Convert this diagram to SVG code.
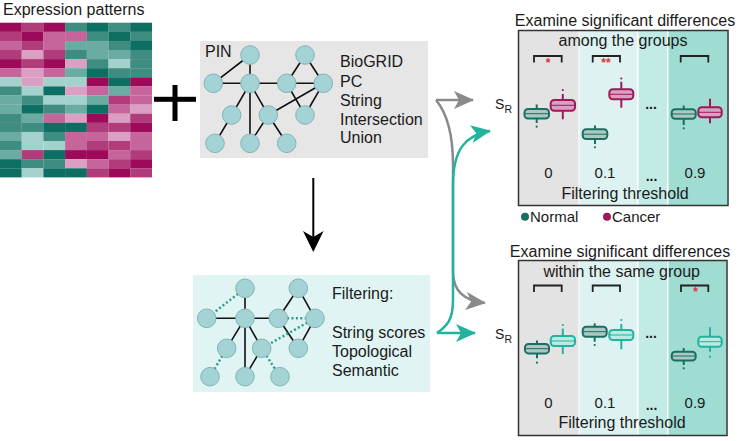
<svg xmlns="http://www.w3.org/2000/svg" width="756" height="441" viewBox="0 0 756 441">
<style>
text{font-family:"Liberation Sans",Arial,sans-serif;fill:#1a1a1a}
.t16{font-size:16px}
.t15{font-size:15px}
.ell{font-size:14px;font-weight:bold}
.a{fill:#9e0a5a}.b{fill:#b03c7c}.c{fill:#c5659b}.d{fill:#dc9fc4}
.e{fill:#a3d2cc}.f{fill:#6aaba2}.g{fill:#3f8c80}.h{fill:#0d6f61}
.node{fill:#a3d3d5;stroke:#84b3b7;stroke-width:1}
.edge{stroke:#111;stroke-width:1.6;fill:none}
.dot{stroke:#2a9c8b;stroke-width:2.5;stroke-dasharray:2 2.4;fill:none}
.brk{fill:none;stroke:#222;stroke-width:1.8}
.nbox{fill:#a9c9c2;stroke:#1a6e62;stroke-width:2}
.nw{stroke:#1a6e62;stroke-width:2}
.cbox{fill:#d9a0bf;stroke:#9c1a5c;stroke-width:2}
.cw{stroke:#9c1a5c;stroke-width:2}
.lbox{fill:#b8ebe2;stroke:#22b39e;stroke-width:2}
.lw{stroke:#22b39e;stroke-width:2}
.med{stroke-width:1}
.star{fill:#e0303a;font-size:12px;font-weight:bold}
</style>
<defs>
<marker id="ag" markerWidth="20" markerHeight="18" refX="19" refY="9" orient="auto" markerUnits="userSpaceOnUse">
<path d="M0,0 L20,9 L0,18 L5,9 z" fill="#8a8a8a"/>
</marker>
<marker id="at" markerWidth="20" markerHeight="18" refX="19" refY="9" orient="auto" markerUnits="userSpaceOnUse">
<path d="M0,0 L20,9 L0,18 L5,9 z" fill="#22b39e"/>
</marker>
</defs>

<g id="heatmap">
<text class="t16" x="3" y="15">Expression patterns</text>
<g>
<rect class="a" x="0" y="22.7" width="21.8" height="9.2"/><rect class="b" x="21.7" y="22.7" width="21.8" height="9.2"/><rect class="a" x="43.4" y="22.7" width="21.8" height="9.2"/><rect class="g" x="65.1" y="22.7" width="21.8" height="9.2"/><rect class="h" x="86.8" y="22.7" width="21.8" height="9.2"/><rect class="g" x="108.5" y="22.7" width="21.8" height="9.2"/><rect class="h" x="130.2" y="22.7" width="21.8" height="9.2"/>
<rect class="b" x="0" y="31.8" width="21.8" height="9.2"/><rect class="a" x="21.7" y="31.8" width="21.8" height="9.2"/><rect class="c" x="43.4" y="31.8" width="21.8" height="9.2"/><rect class="c" x="65.1" y="31.8" width="21.8" height="9.2"/><rect class="g" x="86.8" y="31.8" width="21.8" height="9.2"/><rect class="h" x="108.5" y="31.8" width="21.8" height="9.2"/><rect class="g" x="130.2" y="31.8" width="21.8" height="9.2"/>
<rect class="c" x="0" y="40.9" width="21.8" height="9.2"/><rect class="b" x="21.7" y="40.9" width="21.8" height="9.2"/><rect class="c" x="43.4" y="40.9" width="21.8" height="9.2"/><rect class="f" x="65.1" y="40.9" width="21.8" height="9.2"/><rect class="f" x="86.8" y="40.9" width="21.8" height="9.2"/><rect class="g" x="108.5" y="40.9" width="21.8" height="9.2"/><rect class="h" x="130.2" y="40.9" width="21.8" height="9.2"/>
<rect class="b" x="0" y="50" width="21.8" height="9.2"/><rect class="d" x="21.7" y="50" width="21.8" height="9.2"/><rect class="b" x="43.4" y="50" width="21.8" height="9.2"/><rect class="g" x="65.1" y="50" width="21.8" height="9.2"/><rect class="f" x="86.8" y="50" width="21.8" height="9.2"/><rect class="f" x="108.5" y="50" width="21.8" height="9.2"/><rect class="g" x="130.2" y="50" width="21.8" height="9.2"/>
<rect class="a" x="0" y="59.1" width="21.8" height="9.2"/><rect class="b" x="21.7" y="59.1" width="21.8" height="9.2"/><rect class="a" x="43.4" y="59.1" width="21.8" height="9.2"/><rect class="d" x="65.1" y="59.1" width="21.8" height="9.2"/><rect class="g" x="86.8" y="59.1" width="21.8" height="9.2"/><rect class="e" x="108.5" y="59.1" width="21.8" height="9.2"/><rect class="g" x="130.2" y="59.1" width="21.8" height="9.2"/>
<rect class="c" x="0" y="68.2" width="21.8" height="9.2"/><rect class="d" x="21.7" y="68.2" width="21.8" height="9.2"/><rect class="c" x="43.4" y="68.2" width="21.8" height="9.2"/><rect class="f" x="65.1" y="68.2" width="21.8" height="9.2"/><rect class="h" x="86.8" y="68.2" width="21.8" height="9.2"/><rect class="g" x="108.5" y="68.2" width="21.8" height="9.2"/><rect class="g" x="130.2" y="68.2" width="21.8" height="9.2"/>
<rect class="e" x="0" y="77.3" width="21.8" height="9.2"/><rect class="d" x="21.7" y="77.3" width="21.8" height="9.2"/><rect class="e" x="43.4" y="77.3" width="21.8" height="9.2"/><rect class="e" x="65.1" y="77.3" width="21.8" height="9.2"/><rect class="a" x="86.8" y="77.3" width="21.8" height="9.2"/><rect class="h" x="108.5" y="77.3" width="21.8" height="9.2"/><rect class="a" x="130.2" y="77.3" width="21.8" height="9.2"/>
<rect class="g" x="0" y="86.4" width="21.8" height="9.2"/><rect class="e" x="21.7" y="86.4" width="21.8" height="9.2"/><rect class="h" x="43.4" y="86.4" width="21.8" height="9.2"/><rect class="d" x="65.1" y="86.4" width="21.8" height="9.2"/><rect class="c" x="86.8" y="86.4" width="21.8" height="9.2"/><rect class="f" x="108.5" y="86.4" width="21.8" height="9.2"/><rect class="c" x="130.2" y="86.4" width="21.8" height="9.2"/>
<rect class="f" x="0" y="95.5" width="21.8" height="9.2"/><rect class="g" x="21.7" y="95.5" width="21.8" height="9.2"/><rect class="e" x="43.4" y="95.5" width="21.8" height="9.2"/><rect class="e" x="65.1" y="95.5" width="21.8" height="9.2"/><rect class="f" x="86.8" y="95.5" width="21.8" height="9.2"/><rect class="b" x="108.5" y="95.5" width="21.8" height="9.2"/><rect class="c" x="130.2" y="95.5" width="21.8" height="9.2"/>
<rect class="f" x="0" y="104.6" width="21.8" height="9.2"/><rect class="h" x="21.7" y="104.6" width="21.8" height="9.2"/><rect class="g" x="43.4" y="104.6" width="21.8" height="9.2"/><rect class="f" x="65.1" y="104.6" width="21.8" height="9.2"/><rect class="h" x="86.8" y="104.6" width="21.8" height="9.2"/><rect class="c" x="108.5" y="104.6" width="21.8" height="9.2"/><rect class="d" x="130.2" y="104.6" width="21.8" height="9.2"/>
<rect class="g" x="0" y="113.7" width="21.8" height="9.2"/><rect class="f" x="21.7" y="113.7" width="21.8" height="9.2"/><rect class="c" x="43.4" y="113.7" width="21.8" height="9.2"/><rect class="d" x="65.1" y="113.7" width="21.8" height="9.2"/><rect class="a" x="86.8" y="113.7" width="21.8" height="9.2"/><rect class="d" x="108.5" y="113.7" width="21.8" height="9.2"/><rect class="b" x="130.2" y="113.7" width="21.8" height="9.2"/>
<rect class="g" x="0" y="122.8" width="21.8" height="9.2"/><rect class="g" x="21.7" y="122.8" width="21.8" height="9.2"/><rect class="h" x="43.4" y="122.8" width="21.8" height="9.2"/><rect class="h" x="65.1" y="122.8" width="21.8" height="9.2"/><rect class="b" x="86.8" y="122.8" width="21.8" height="9.2"/><rect class="b" x="108.5" y="122.8" width="21.8" height="9.2"/><rect class="a" x="130.2" y="122.8" width="21.8" height="9.2"/>
<rect class="f" x="0" y="131.9" width="21.8" height="9.2"/><rect class="e" x="21.7" y="131.9" width="21.8" height="9.2"/><rect class="g" x="43.4" y="131.9" width="21.8" height="9.2"/><rect class="c" x="65.1" y="131.9" width="21.8" height="9.2"/><rect class="c" x="86.8" y="131.9" width="21.8" height="9.2"/><rect class="d" x="108.5" y="131.9" width="21.8" height="9.2"/><rect class="c" x="130.2" y="131.9" width="21.8" height="9.2"/>
<rect class="g" x="0" y="141" width="21.8" height="9.2"/><rect class="e" x="21.7" y="141" width="21.8" height="9.2"/><rect class="e" x="43.4" y="141" width="21.8" height="9.2"/><rect class="c" x="65.1" y="141" width="21.8" height="9.2"/><rect class="b" x="86.8" y="141" width="21.8" height="9.2"/><rect class="b" x="108.5" y="141" width="21.8" height="9.2"/><rect class="c" x="130.2" y="141" width="21.8" height="9.2"/>
<rect class="f" x="0" y="150.1" width="21.8" height="9.2"/><rect class="b" x="21.7" y="150.1" width="21.8" height="9.2"/><rect class="h" x="43.4" y="150.1" width="21.8" height="9.2"/><rect class="a" x="65.1" y="150.1" width="21.8" height="9.2"/><rect class="a" x="86.8" y="150.1" width="21.8" height="9.2"/><rect class="c" x="108.5" y="150.1" width="21.8" height="9.2"/><rect class="b" x="130.2" y="150.1" width="21.8" height="9.2"/>
<rect class="h" x="0" y="159.2" width="21.8" height="9.2"/><rect class="g" x="21.7" y="159.2" width="21.8" height="9.2"/><rect class="g" x="43.4" y="159.2" width="21.8" height="9.2"/><rect class="d" x="65.1" y="159.2" width="21.8" height="9.2"/><rect class="c" x="86.8" y="159.2" width="21.8" height="9.2"/><rect class="b" x="108.5" y="159.2" width="21.8" height="9.2"/><rect class="a" x="130.2" y="159.2" width="21.8" height="9.2"/>
<rect class="h" x="0" y="168.3" width="21.8" height="9.1"/><rect class="e" x="21.7" y="168.3" width="21.8" height="9.1"/><rect class="h" x="43.4" y="168.3" width="21.8" height="9.1"/><rect class="h" x="65.1" y="168.3" width="21.8" height="9.1"/><rect class="b" x="86.8" y="168.3" width="21.8" height="9.1"/><rect class="a" x="108.5" y="168.3" width="21.8" height="9.1"/><rect class="b" x="130.2" y="168.3" width="21.8" height="9.1"/>
</g>
</g>

<g id="plus">
<rect x="154" y="96.8" width="42" height="5" fill="#000"/>
<rect x="172.5" y="85" width="5" height="36" fill="#000"/>
</g>

<g id="pin">
<rect x="200" y="41" width="228" height="117" fill="#e6e6e6"/>
<text class="t16" x="205" y="57">PIN</text>
<g class="edges">
<path class="edge" d="M250,55 L213.3,83.3 M250,55 L250,143.3 M213.3,83.3 L323.3,83.3 M305,55 L286.7,83.3 M305,55 L323.3,83.3 M250,83.3 L231.7,115 M250,83.3 L268.3,115 M286.7,83.3 L305,115 M323.3,83.3 L305,115 M323.3,83.3 L268.3,115 M231.7,115 L215,143.3 M268.3,115 L250,143.3 M268.3,115 L286.7,143.3"/>
</g>
<circle class="node" cx="250" cy="55" r="9.3"/><circle class="node" cx="305" cy="55" r="9.3"/>
<circle class="node" cx="213.3" cy="83.3" r="9.3"/><circle class="node" cx="250" cy="83.3" r="9.3"/><circle class="node" cx="286.7" cy="83.3" r="9.3"/><circle class="node" cx="323.3" cy="83.3" r="9.3"/>
<circle class="node" cx="231.7" cy="115" r="9.3"/><circle class="node" cx="268.3" cy="115" r="9.3"/><circle class="node" cx="305" cy="115" r="9.3"/>
<circle class="node" cx="215" cy="143.3" r="9.3"/><circle class="node" cx="250" cy="143.3" r="9.3"/><circle class="node" cx="286.7" cy="143.3" r="9.3"/>
<text class="t16" x="340" y="67">BioGRID</text>
<text class="t16" x="340" y="86.5">PC</text>
<text class="t16" x="340" y="105.5">String</text>
<text class="t16" x="340" y="124.5">Intersection</text>
<text class="t16" x="340" y="143">Union</text>
</g>

<g id="filter">
<rect x="193" y="275" width="237" height="117" fill="#e0f4f4"/>
<path class="edge" d="M206.7,318.3 L278.3,318.3 M245,288.3 L245,376.7 M298.3,288.3 L278.3,318.3 M298.3,288.3 L315,318.3 M278.3,318.3 L298.3,348.3 M315,318.3 L298.3,348.3 M245,318.3 L226.7,348.3 M245,318.3 L261.7,348.3 M261.7,348.3 L245,376.7"/>
<path class="dot" d="M245,288.3 L206.7,318.3 M278.3,318.3 L315,318.3 M315,318.3 L261.7,348.3 M226.7,348.3 L210,376.7 M261.7,348.3 L280,376.7"/>
<circle class="node" cx="245" cy="288.3" r="9.3"/><circle class="node" cx="298.3" cy="288.3" r="9.3"/>
<circle class="node" cx="206.7" cy="318.3" r="9.3"/><circle class="node" cx="245" cy="318.3" r="9.3"/><circle class="node" cx="278.3" cy="318.3" r="9.3"/><circle class="node" cx="315" cy="318.3" r="9.3"/>
<circle class="node" cx="226.7" cy="348.3" r="9.3"/><circle class="node" cx="261.7" cy="348.3" r="9.3"/><circle class="node" cx="298.3" cy="348.3" r="9.3"/>
<circle class="node" cx="210" cy="376.7" r="9.3"/><circle class="node" cx="245" cy="376.7" r="9.3"/><circle class="node" cx="280" cy="376.7" r="9.3"/>
<text class="t16" x="332" y="299">Filtering:</text>
<text class="t16" x="332" y="338">String scores</text>
<text class="t16" x="332" y="357">Topological</text>
<text class="t16" x="332" y="376">Semantic</text>
</g>

<g id="connectors">
<line x1="313.3" y1="178" x2="313.3" y2="240" stroke="#000" stroke-width="2"/>
<path d="M313.3,252 L303,231 L313.3,237 L323.6,231 z" fill="#000"/>
<path d="M436,100 H473" stroke="#8a8a8a" stroke-width="2.5" fill="none" marker-end="url(#ag)"/>
<path d="M436,100 C446,112 453,130 453,165 L453,272 C453,292 466,301 485,303" stroke="#8a8a8a" stroke-width="2.5" fill="none" marker-end="url(#ag)"/>
<path d="M437,333 H475" stroke="#22b39e" stroke-width="2.5" fill="none" marker-end="url(#at)"/>
<path d="M437,333 C447,326 453,320 453,300 L453,185 C453,150 465,135 490,131" stroke="#22b39e" stroke-width="2.5" fill="none" marker-end="url(#at)"/>
</g>

<g id="panel-among">
<text class="t16" x="625" y="26" text-anchor="middle">Examine significant differences</text>
<rect x="519" y="31" width="59.5" height="174" fill="#e3e3e3"/>
<rect x="579.5" y="31" width="57.5" height="174" fill="#def3f1"/>
<rect x="638.5" y="31" width="28.5" height="174" fill="#c3ebe6"/>
<rect x="668.5" y="31" width="59" height="174" fill="#9fdcd2"/>
<rect x="518.5" y="30.5" width="209.5" height="175" fill="none" stroke="#333" stroke-width="1.5"/>
<text class="t16" x="623" y="46" text-anchor="middle">among the groups</text>
<path class="brk" d="M534,62.5 V56 H561.7 V62.5 M592.7,62.5 V56 H620 V62.5 M680.7,62.5 V56 H708.3 V62.5"/>
<text class="star" x="548" y="67" text-anchor="middle">*</text>
<text class="star" x="606" y="67" text-anchor="middle">**</text>
<text x="495" y="108.5" style="font-size:14px">S</text><text x="504.5" y="112.5" style="font-size:10.5px">R</text>
<line class="nw" x1="536.7" y1="104.5" x2="536.7" y2="123"/><circle cx="536.7" cy="126.7" r="1.1" fill="#1a6e62"/>
<rect class="nbox" x="524.5" y="109" width="24.5" height="9.5" rx="3.5"/><line class="nw med" x1="525" y1="113.7" x2="548.5" y2="113.7"/>
<line class="cw" x1="562.8" y1="94" x2="562.8" y2="119.3"/><circle cx="562.8" cy="90" r="1.1" fill="#9c1a5c"/>
<rect class="cbox" x="550.7" y="100" width="24.3" height="10.7" rx="3.5"/><line class="cw med" x1="551" y1="105.3" x2="574.5" y2="105.3"/>
<line class="nw" x1="595" y1="125.5" x2="595" y2="144"/><circle cx="595" cy="147.3" r="1.1" fill="#1a6e62"/>
<rect class="nbox" x="582.7" y="129.3" width="24.6" height="9.7" rx="3.5"/><line class="nw med" x1="583" y1="134.2" x2="607" y2="134.2"/>
<line class="cw" x1="621.3" y1="81.7" x2="621.3" y2="107.7"/><circle cx="621.3" cy="78.5" r="1.1" fill="#9c1a5c"/>
<rect class="cbox" x="609.3" y="89.3" width="24" height="10" rx="3.5"/><line class="cw med" x1="609.5" y1="94.3" x2="633" y2="94.3"/>
<text class="ell" x="651" y="109" text-anchor="middle">...</text>
<line class="nw" x1="683.7" y1="105.5" x2="683.7" y2="125"/><circle cx="683.7" cy="128.3" r="1.1" fill="#1a6e62"/>
<rect class="nbox" x="671.7" y="109.3" width="24" height="9.4" rx="3.5"/><line class="nw med" x1="672" y1="114" x2="695.5" y2="114"/>
<line class="cw" x1="710" y1="98.7" x2="710" y2="123.3"/>
<rect class="cbox" x="698.3" y="107.3" width="23.4" height="10" rx="3.5"/><line class="cw med" x1="698.5" y1="112.3" x2="721.5" y2="112.3"/>
<text class="t15" x="548.3" y="178" text-anchor="middle">0</text>
<text class="t15" x="605" y="178" text-anchor="middle">0.1</text>
<text class="t15" x="695" y="178" text-anchor="middle">0.9</text>
<text class="ell" x="651.5" y="181" text-anchor="middle">...</text>
<text class="t16" x="625" y="199" text-anchor="middle">Filtering threshold</text>
<circle cx="525" cy="216.7" r="4" fill="#1a6e62"/><text class="t15" x="530" y="222">Normal</text>
<circle cx="607" cy="216.7" r="4" fill="#9c1a5c"/><text class="t15" x="612" y="222">Cancer</text>
</g>

<g id="panel-within">
<text class="t16" x="620" y="257" text-anchor="middle">Examine significant differences</text>
<rect x="519" y="261" width="59.5" height="174" fill="#e3e3e3"/>
<rect x="579.5" y="261" width="57.5" height="174" fill="#def3f1"/>
<rect x="638.5" y="261" width="28.5" height="174" fill="#c3ebe6"/>
<rect x="668.5" y="261" width="58" height="174" fill="#9fdcd2"/>
<rect x="518.5" y="260.5" width="208.5" height="175" fill="none" stroke="#333" stroke-width="1.5"/>
<text class="t16" x="621.7" y="277" text-anchor="middle">within the same group</text>
<path class="brk" d="M534,292 V285.5 H561.7 V292 M592.7,292 V285.5 H620 V292 M681,292 V285.5 H708.3 V292"/>
<text class="star" x="695.7" y="296" text-anchor="middle">*</text>
<text x="495" y="338.5" style="font-size:14px">S</text><text x="504.5" y="342.5" style="font-size:10.5px">R</text>
<line class="nw" x1="537" y1="340.5" x2="537" y2="358.3"/><circle cx="537" cy="362.7" r="1.1" fill="#1a6e62"/>
<rect class="nbox" x="525" y="344" width="24" height="9.4" rx="3.5"/><line class="nw med" x1="525.5" y1="348.7" x2="548.5" y2="348.7"/>
<line class="lw" x1="562.8" y1="328.5" x2="562.8" y2="354"/><circle cx="562.8" cy="325" r="1.1" fill="#22b39e"/>
<rect class="lbox" x="550.7" y="336" width="24.3" height="10" rx="3.5"/><line class="lw med" x1="551" y1="341" x2="574.5" y2="341"/>
<line class="nw" x1="594.7" y1="323.3" x2="594.7" y2="341.7"/><circle cx="594.7" cy="345" r="1.1" fill="#1a6e62"/>
<rect class="nbox" x="582.7" y="326.7" width="24" height="10" rx="3.5"/><line class="nw med" x1="583" y1="331.7" x2="606.5" y2="331.7"/>
<line class="lw" x1="621.3" y1="324" x2="621.3" y2="349.3"/><circle cx="621.3" cy="320" r="1.1" fill="#22b39e"/>
<rect class="lbox" x="609.3" y="330" width="24" height="10" rx="3.5"/><line class="lw med" x1="609.5" y1="335" x2="633" y2="335"/>
<text class="ell" x="651" y="338" text-anchor="middle">...</text>
<line class="nw" x1="683.7" y1="348" x2="683.7" y2="365"/><circle cx="683.7" cy="368.3" r="1.1" fill="#1a6e62"/>
<rect class="nbox" x="671.7" y="351.7" width="24" height="8.8" rx="3.5"/><line class="nw med" x1="672" y1="356" x2="695.5" y2="356"/>
<line class="lw" x1="710" y1="327.3" x2="710" y2="351.7"/><circle cx="710" cy="356.7" r="1.1" fill="#22b39e"/>
<rect class="lbox" x="698.3" y="336.7" width="23.4" height="10" rx="3.5"/><line class="lw med" x1="698.5" y1="341.7" x2="721.5" y2="341.7"/>
<text class="t15" x="548.3" y="408" text-anchor="middle">0</text>
<text class="t15" x="605" y="408" text-anchor="middle">0.1</text>
<text class="t15" x="695" y="408" text-anchor="middle">0.9</text>
<text class="ell" x="651.5" y="410" text-anchor="middle">...</text>
<text class="t16" x="622" y="428" text-anchor="middle">Filtering threshold</text>
</g>
</svg>
